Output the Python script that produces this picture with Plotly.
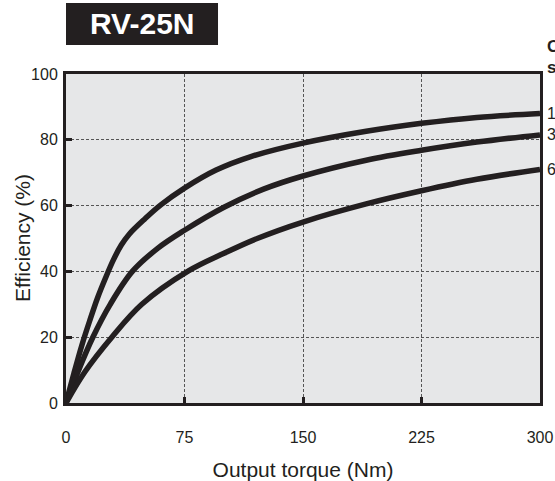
import plotly.graph_objects as go

# Data
torque_top = [0, 5, 10, 15, 20, 25, 30, 35, 40, 50, 60, 75, 95, 117, 150, 190, 225, 260, 300]
eff_top = [0, 9, 17.5, 25, 32, 38, 43.5, 48, 51.3, 56, 60.2, 65.3, 70.8, 74.9, 79, 82.6, 85, 86.8, 88]

torque_mid = [0, 8, 17, 28, 42, 58, 75, 100, 125, 150, 190, 225, 260, 300]
eff_mid = [0, 10, 20, 30, 40, 47, 52.5, 59.5, 65, 69, 73.8, 76.8, 79.3, 81.5]

torque_bot = [0, 12, 29, 48, 77, 100, 121, 150, 190, 225, 260, 300]
eff_bot = [0, 9.5, 20, 30, 40, 45.5, 50, 55, 60.5, 64.5, 68, 71]

series_labels = ["1", "3", "6"]
x_ticks = [0, 75, 150, 225, 300]
y_ticks = [0, 20, 40, 60, 80, 100]

INK = "#231f20"
FONT = "Liberation Sans, Arial, Helvetica, sans-serif"

fig = go.Figure()
for xs, ys in [(torque_top, eff_top), (torque_mid, eff_mid), (torque_bot, eff_bot)]:
    fig.add_trace(go.Scatter(
        x=xs, y=ys, mode="lines",
        line=dict(color=INK, width=5.5, shape="spline", smoothing=1.0),
        showlegend=False, hoverinfo="skip",
    ))

axis_common = dict(
    showline=True, linecolor=INK, linewidth=3, mirror=True,
    showgrid=True, gridcolor="#555555", griddash="3px,2px", gridwidth=1,
    zeroline=False, automargin=False,
    ticks="inside", ticklen=6, tickwidth=2.5, tickcolor=INK,
    tickfont=dict(family=FONT, size=16, color=INK),
)

fig.update_xaxes(
    range=[0, 300], tickvals=x_ticks, ticktext=[str(v) for v in x_ticks],
    ticklabelstandoff=18,
    title=dict(text="Output torque (Nm)", font=dict(family=FONT, size=21, color=INK), standoff=19),
    **axis_common,
)
fig.update_yaxes(
    range=[0, 100], tickvals=y_ticks, ticktext=[str(v) for v in y_ticks],
    ticklabelstandoff=2,
    **axis_common,
)

# Y-axis title placed to match the reference position
fig.add_annotation(xref="paper", yref="paper", x=(22 - 66) / 474, y=(403 - 238) / 329,
                   text="Efficiency (%)", textangle=-90, showarrow=False,
                   xanchor="center", yanchor="middle",
                   font=dict(family=FONT, size=21, color=INK))

# Title box
fig.add_shape(type="rect", xref="paper", yref="paper",
              x0=0, x1=0.3207, y0=1.0881, y1=1.2158,
              fillcolor=INK, line=dict(width=0), layer="above")
fig.add_annotation(xref="paper", yref="paper", x=0.1604, y=1.152,
                   text="<b>RV-25N</b>", showarrow=False,
                   font=dict(family=FONT, size=30, color="white"),
                   xanchor="center", yanchor="middle")

# Right-hand labels (cut off at the edge in the reference)
fig.add_annotation(xref="paper", yref="paper", x=1.011, y=(403 - 46) / 329,
                   text="<b>O</b>", showarrow=False, xanchor="left", yanchor="middle",
                   font=dict(family=FONT, size=17, color=INK))
fig.add_annotation(xref="paper", yref="paper", x=1.011, y=(403 - 67) / 329,
                   text="<b>s</b>", showarrow=False, xanchor="left", yanchor="middle",
                   font=dict(family=FONT, size=17, color=INK))
ends = [eff_top[-1], eff_mid[-1], eff_bot[-1]]
for lab, yv in zip(series_labels, ends):
    fig.add_annotation(xref="paper", yref="y", x=1.011, y=yv,
                       text=lab, showarrow=False, xanchor="left", yanchor="middle",
                       font=dict(family=FONT, size=16, color=INK))

fig.update_layout(
    width=555, height=481,
    margin=dict(l=66, r=15, t=74, b=78),
    paper_bgcolor="white", plot_bgcolor="#e6e7e8",
    font=dict(family=FONT, color=INK),
)

fig.write_html("out.html", config={"displayModeBar": False},
               post_script="document.body.style.margin='0';document.body.style.overflow='hidden';")
